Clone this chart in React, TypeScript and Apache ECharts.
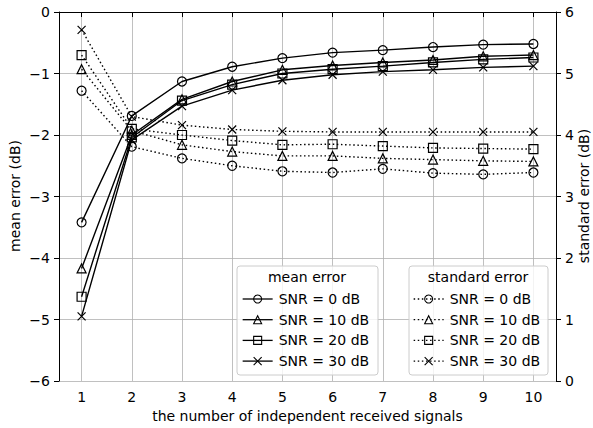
import React, { useEffect, useRef } from "react";
import * as echarts from "echarts";

const xValues = [1, 2, 3, 4, 5, 6, 7, 8, 9, 10];
const xTicks = [1, 2, 3, 4, 5, 6, 7, 8, 9, 10];
const snrLabels = ["SNR = 0 dB", "SNR = 10 dB", "SNR = 20 dB", "SNR = 30 dB"];

const meanSnr0 = [-3.42, -1.69, -1.13, -0.89, -0.75, -0.66, -0.62, -0.57, -0.53, -0.52];
const meanSnr10 = [-4.17, -2.0, -1.42, -1.13, -0.94, -0.87, -0.82, -0.78, -0.72, -0.7];
const meanSnr20 = [-4.63, -2.04, -1.44, -1.18, -1.0, -0.93, -0.88, -0.82, -0.77, -0.74];
const meanSnr30 = [-4.95, -2.08, -1.53, -1.27, -1.11, -1.02, -0.97, -0.94, -0.9, -0.88];

const stdSnr0 = [4.72, 3.81, 3.62, 3.5, 3.41, 3.39, 3.45, 3.38, 3.36, 3.39];
const stdSnr10 = [5.07, 4.07, 3.84, 3.73, 3.66, 3.66, 3.62, 3.6, 3.58, 3.57];
const stdSnr20 = [5.3, 4.1, 4.0, 3.91, 3.84, 3.85, 3.82, 3.79, 3.78, 3.77];
const stdSnr30 = [5.71, 4.3, 4.16, 4.09, 4.06, 4.05, 4.05, 4.05, 4.05, 4.05];

const leftTicks = [-6, -5, -4, -3, -2, -1, 0];
const rightTicks = [0, 1, 2, 3, 4, 5, 6];

const FONT = "DejaVu Sans";
const X_SYMBOL = "path://M0,0L10,10M10,0L0,10";
const symbols = ["circle", "triangle", "rect", X_SYMBOL];
const symbolSizes = [9, 9, 9, 8];

const fmtMinus = (v: number) => String(v).replace("-", "\u2212");

export default function App() {
  const ref = useRef<HTMLDivElement>(null);
  useEffect(() => {
    if (!ref.current) return;
    const chart = echarts.init(ref.current, null, { renderer: "svg" });
    const meanData = [meanSnr0, meanSnr10, meanSnr20, meanSnr30];
    const stdData = [stdSnr0, stdSnr10, stdSnr20, stdSnr30];
    const nameMap: Record<string, string> = {};
    const series: any[] = [];
    meanData.forEach((arr, i) => {
      const nm = "m" + i;
      nameMap[nm] = snrLabels[i];
      series.push({
        type: "line",
        name: nm,
        xAxisIndex: 0,
        yAxisIndex: 0,
        data: arr.map((v, j) => [xValues[j], v]),
        symbol: symbols[i],
        symbolSize: symbolSizes[i],
        showSymbol: true,
        itemStyle: { color: "none", borderColor: "#000", borderWidth: 1.2 },
        lineStyle: { color: "#000", width: 1.4, type: "solid" },
        emphasis: { disabled: true },
        z: 3,
      });
    });
    stdData.forEach((arr, i) => {
      const nm = "s" + i;
      nameMap[nm] = snrLabels[i];
      series.push({
        type: "line",
        name: nm,
        xAxisIndex: 0,
        yAxisIndex: 1,
        data: arr.map((v, j) => [xValues[j], v]),
        symbol: symbols[i],
        symbolSize: symbolSizes[i],
        showSymbol: true,
        itemStyle: { color: "none", borderColor: "#000", borderWidth: 1.2 },
        lineStyle: { color: "#000", width: 1.4, type: [1.5, 2.6], cap: "butt" },
        emphasis: { disabled: true },
        z: 3,
      });
    });

    const legendCommon = {
      orient: "vertical",
      padding: 0,
      itemWidth: 30,
      itemHeight: 10,
      itemGap: 4.7,
      selectedMode: false,
      itemStyle: { borderWidth: 1.1 },
      lineStyle: { width: 1.3 },
      textStyle: { fontFamily: FONT, fontSize: 14, color: "#000", padding: [0, 0, 0, 1], lineHeight: 16 },
      formatter: (n: string) => nameMap[n],
      z: 10,
    };

    chart.setOption({
      animation: false,
      backgroundColor: "#fff",
      grid: { left: 59, right: 37, top: 12, bottom: 47, containLabel: false, outerBoundsMode: "none" },
      xAxis: [
        {
          type: "value",
          min: 0.55,
          max: 10.45,
          name: "the number of independent received signals",
          nameLocation: "middle",
          nameGap: 26,
          nameTextStyle: { fontFamily: FONT, fontSize: 14, color: "#000" },
          axisLine: { show: true, lineStyle: { color: "#000", width: 1 } },
          axisTick: { show: true, customValues: xTicks, length: 5, lineStyle: { color: "#000" } },
          axisLabel: { customValues: xTicks, margin: 9, fontFamily: FONT, fontSize: 14, color: "#000" },
          splitLine: { show: true, lineStyle: { color: "#b0b0b0", width: 0.8 } },
        },
        {
          type: "value",
          position: "top",
          min: 0.55,
          max: 10.45,
          axisLine: { show: true, onZero: false, lineStyle: { color: "#000", width: 1 } },
          axisTick: { show: false },
          axisLabel: { show: false },
          splitLine: { show: false },
        },
      ],
      yAxis: [
        {
          type: "value",
          min: -6,
          max: 0,
          interval: 1,
          position: "left",
          axisLine: { show: true, onZero: false, lineStyle: { color: "#000", width: 1 } },
          axisTick: { show: true, length: 5, lineStyle: { color: "#000" } },
          axisLabel: {
            margin: 9,
            fontFamily: FONT,
            fontSize: 14,
            color: "#000",
            formatter: (v: number) => (leftTicks.includes(v) ? fmtMinus(v) : ""),
          },
          splitLine: { show: true, lineStyle: { color: "#b0b0b0", width: 0.8 } },
        },
        {
          type: "value",
          min: 0,
          max: 6,
          interval: 1,
          position: "right",
          axisLine: { show: true, onZero: false, lineStyle: { color: "#000", width: 1 } },
          axisTick: { show: true, length: 5, lineStyle: { color: "#000" } },
          axisLabel: {
            margin: 9,
            fontFamily: FONT,
            fontSize: 14,
            color: "#000",
            formatter: (v: number) => (rightTicks.includes(v) ? String(v) : ""),
          },
          splitLine: { show: false },
        },
      ],
      graphic: [
        {
          type: "text",
          x: 15,
          y: 196,
          rotation: Math.PI / 2,
          style: { text: "mean error (dB)", fontFamily: FONT, fontSize: 14, fill: "#000", textAlign: "center", textVerticalAlign: "middle" },
        },
        {
          type: "text",
          x: 584,
          y: 196,
          rotation: Math.PI / 2,
          style: { text: "standard error (dB)", fontFamily: FONT, fontSize: 14, fill: "#000", textAlign: "center", textVerticalAlign: "middle" },
        },
        {
          type: "rect",
          shape: { x: 237, y: 266, width: 141, height: 109, r: 3 },
          style: { fill: "rgba(255,255,255,0.8)", stroke: "#cccccc", lineWidth: 1 },
          z: 5,
        },
        {
          type: "rect",
          shape: { x: 409, y: 266, width: 139, height: 109, r: 3 },
          style: { fill: "rgba(255,255,255,0.8)", stroke: "#cccccc", lineWidth: 1 },
          z: 5,
        },
        {
          type: "text",
          x: 307,
          y: 277,
          style: { text: "mean error", fontFamily: FONT, fontSize: 14, fill: "#000", textAlign: "center", textVerticalAlign: "middle" },
          z: 6,
        },
        {
          type: "text",
          x: 478,
          y: 277,
          style: { text: "standard error", fontFamily: FONT, fontSize: 14, fill: "#000", textAlign: "center", textVerticalAlign: "middle" },
          z: 6,
        },
      ],
      legend: [
        { ...legendCommon, left: 242, top: 291, data: ["m0", "m1", "m2", "m3"] },
        { ...legendCommon, left: 413, top: 291, data: ["s0", "s1", "s2", "s3"] },
      ],
      series,
    });
    return () => chart.dispose();
  }, []);
  return <div ref={ref} style={{ width: 593, height: 428, position: "absolute", left: 0, top: 0 }} />;
}
